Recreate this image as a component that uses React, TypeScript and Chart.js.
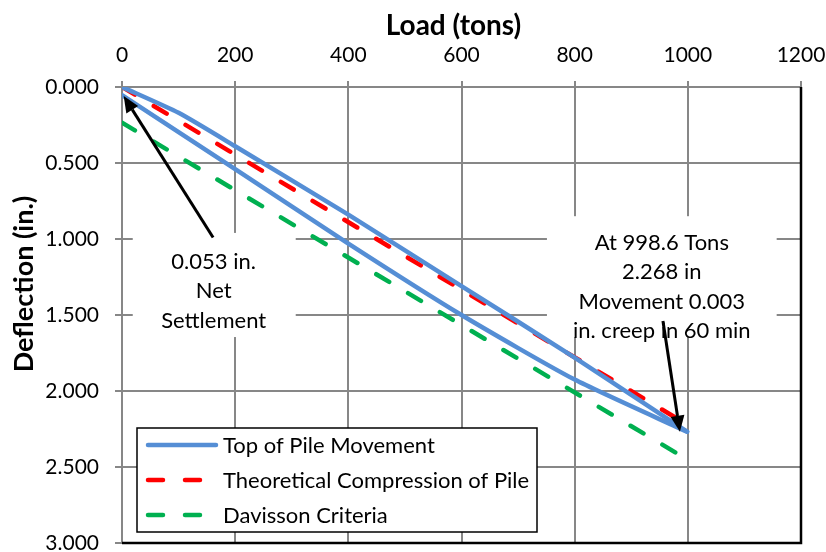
import React, { useEffect, useRef } from "react";
import { Chart, registerables } from "chart.js";

Chart.register(...registerables);

// ---- data ----
const loadTicks = [0, 200, 400, 600, 800, 1000, 1200];
const deflTicks = [0, 0.5, 1.0, 1.5, 2.0, 2.5, 3.0];

const loadingLoad = [0, 100, 200, 400, 600, 800, 998.6];
const loadingDefl = [0, 0.17, 0.39, 0.84, 1.31, 1.78, 2.268];
const unloadLoad = [998.6, 800, 600, 400, 200, 0];
const unloadDefl = [2.268, 1.925, 1.5, 1.03, 0.54, 0.053];

const theoLoad = [0, 998.6];
const theoDefl = [0, 2.22];

const davLoad = [0, 998.6];
const davDefl = [0.235, 2.45];

const seriesNames = [
  "Top of Pile Movement",
  "Theoretical Compression of Pile",
  "Davisson Criteria",
];

const noteNetLines = ["0.053 in.", "Net", "Settlement"];
const noteMaxLines = ["At 998.6 Tons", "2.268 in", "Movement 0.003", "in. creep in 60 min"];

// annotation anchors in data units (load, deflection)
const noteNet = { cx: 162, top: 1.149, box: [19, 307, 0.96, 1.645] };
const noteMax = { cx: 954, top: 1.025, box: [751, 1157, 0.85, 1.645] };
const arrowNet = { from: [161, 0.99], to: [3, 0.06] };
const arrowMax = { from: [956, 1.54], to: [986, 2.268] };

const FONT = "Lato, 'Liberation Sans', sans-serif";
const BLUE = "#558ED5";
const RED = "#FF0000";
const GREEN = "#00B050";
const GRID = "#878787";

const zip = (xs: number[], ys: number[]) => xs.map((x, i) => ({ x, y: ys[i] }));

function drawArrow(ctx: CanvasRenderingContext2D, x1: number, y1: number, x2: number, y2: number) {
  const ang = Math.atan2(y2 - y1, x2 - x1);
  const len = 16;
  const hw = 7;
  const bx = x2 - len * Math.cos(ang);
  const by = y2 - len * Math.sin(ang);
  ctx.save();
  ctx.strokeStyle = "#000";
  ctx.fillStyle = "#000";
  ctx.lineWidth = 3;
  ctx.beginPath();
  ctx.moveTo(x1, y1);
  ctx.lineTo(bx, by);
  ctx.stroke();
  ctx.beginPath();
  ctx.moveTo(x2, y2);
  ctx.lineTo(bx + hw * Math.sin(ang), by - hw * Math.cos(ang));
  ctx.lineTo(bx - hw * Math.sin(ang), by + hw * Math.cos(ang));
  ctx.closePath();
  ctx.fill();
  ctx.restore();
}

const overlayPlugin = {
  id: "overlay",
  beforeDatasetsDraw(chart: any) {
    const { ctx, scales } = chart;
    const xs = scales.x;
    const ys = scales.y;
    ctx.save();
    for (const [note, lines] of [
      [noteNet, noteNetLines],
      [noteMax, noteMaxLines],
    ] as any) {
      const [a, b, c, d] = note.box;
      const x0 = xs.getPixelForValue(a);
      const x1 = Math.min(xs.getPixelForValue(b), chart.chartArea.right - 2);
      const y0 = ys.getPixelForValue(c);
      const y1 = ys.getPixelForValue(d);
      ctx.fillStyle = "#fff";
      ctx.fillRect(x0, y0, x1 - x0, y1 - y0);
      ctx.fillStyle = "#000";
      ctx.font = `22px ${FONT}`;
      ctx.textAlign = "center";
      ctx.textBaseline = "middle";
      const cx = xs.getPixelForValue(note.cx);
      const ty = ys.getPixelForValue(note.top);
      lines.forEach((t: string, i: number) => ctx.fillText(t, cx, ty + i * 29.5));
    }
    ctx.restore();
  },
  afterDatasetsDraw(chart: any) {
    const { ctx, scales, chartArea } = chart;
    const xs = scales.x;
    const ys = scales.y;
    // plot border right & bottom
    ctx.save();
    ctx.strokeStyle = "#000";
    ctx.lineWidth = 2.5;
    ctx.beginPath();
    ctx.moveTo(chartArea.right, chartArea.top);
    ctx.lineTo(chartArea.right, chartArea.bottom);
    ctx.lineTo(chartArea.left, chartArea.bottom);
    ctx.stroke();
    ctx.restore();

    for (const ar of [arrowNet, arrowMax]) {
      drawArrow(
        ctx,
        xs.getPixelForValue(ar.from[0]),
        ys.getPixelForValue(ar.from[1]),
        xs.getPixelForValue(ar.to[0]),
        ys.getPixelForValue(ar.to[1])
      );
    }

    // legend
    const lx = chartArea.left + 15;
    const ly = 428;
    const lw = 400;
    const lh = 104;
    ctx.save();
    ctx.fillStyle = "#fff";
    ctx.fillRect(lx, ly, lw, lh);
    ctx.strokeStyle = "#000";
    ctx.lineWidth = 1.5;
    ctx.strokeRect(lx, ly, lw, lh);
    const styles = [
      { c: BLUE, dash: [] as number[] },
      { c: RED, dash: [15, 22] },
      { c: GREEN, dash: [15, 22] },
    ];
    seriesNames.forEach((name, i) => {
      const yy = ly + 17 + i * 35;
      ctx.strokeStyle = styles[i].c;
      ctx.lineWidth = 4.5;
      ctx.lineCap = "round";
      ctx.setLineDash(styles[i].dash);
      ctx.beginPath();
      ctx.moveTo(lx + 11, yy);
      ctx.lineTo(lx + 79, yy);
      ctx.stroke();
      ctx.setLineDash([]);
      ctx.fillStyle = "#000";
      ctx.font = `22px ${FONT}`;
      ctx.textAlign = "left";
      ctx.textBaseline = "middle";
      ctx.fillText(name, lx + 86, yy + 1);
    });
    ctx.restore();

    // axis titles
    ctx.save();
    ctx.fillStyle = "#000";
    ctx.font = `bold 28px ${FONT}`;
    ctx.textAlign = "center";
    ctx.textBaseline = "alphabetic";
    ctx.fillText("Load (tons)", (chartArea.left + chartArea.right) / 2 - 8, 35);
    ctx.font = `bold 27px ${FONT}`;
    ctx.translate(33, 284);
    ctx.rotate(-Math.PI / 2);
    ctx.fillText("Deflection (in.)", 0, 0);
    ctx.restore();
  },
};

export default function App() {
  const ref = useRef<HTMLCanvasElement | null>(null);
  useEffect(() => {
    if (!ref.current) return;
    const lineBase = {
      showLine: true,
      pointRadius: 0,
      borderWidth: 4.5,
      borderCapStyle: "round",
      borderJoinStyle: "round",
    };
    const chart = new Chart(ref.current, {
      type: "scatter",
      data: {
        datasets: [
          {
            ...lineBase,
            label: seriesNames[0],
            data: zip(loadingLoad, loadingDefl),
            borderColor: BLUE,
            tension: 0.2,
          },
          {
            ...lineBase,
            label: seriesNames[0] + " (unload)",
            data: zip(unloadLoad, unloadDefl),
            borderColor: BLUE,
            tension: 0.2,
          },
          {
            ...lineBase,
            label: seriesNames[1],
            data: zip(theoLoad, theoDefl),
            borderColor: RED,
            borderDash: [15, 22],
          },
          {
            ...lineBase,
            label: seriesNames[2],
            data: zip(davLoad, davDefl),
            borderColor: GREEN,
            borderDash: [15, 22],
          },
        ],
      } as any,
      options: {
        animation: false,
        responsive: false,
        maintainAspectRatio: false,
        layout: { padding: { left: 0, right: 25, top: 0, bottom: 9 } },
        plugins: { legend: { display: false }, tooltip: { enabled: false } },
        scales: {
          x: {
            type: "linear",
            position: "top",
            min: 0,
            max: 1200,
            afterBuildTicks: (s: any) => {
              s.ticks = loadTicks.map((v) => ({ value: v }));
            },
            afterFit: (s: any) => {
              s.height = 87;
              s.paddingLeft = 0;
              s.paddingRight = 0;
            },
            ticks: {
              color: "#000",
              font: { family: FONT, size: 21 },
              padding: 13,
              maxRotation: 0,
              callback: (v: any) => String(v),
            },
            grid: { color: GRID, lineWidth: 2, tickLength: 6, drawTicks: true },
            border: { color: GRID, width: 2 },
          },
          y: {
            type: "linear",
            reverse: true,
            min: 0,
            max: 3,
            afterBuildTicks: (s: any) => {
              s.ticks = deflTicks.map((v) => ({ value: v }));
            },
            afterFit: (s: any) => {
              s.width = 122;
              s.paddingTop = 0;
              s.paddingBottom = 0;
            },
            ticks: {
              color: "#000",
              font: { family: FONT, size: 21 },
              padding: 16,
              callback: (v: any) => Number(v).toFixed(3),
            },
            grid: { color: GRID, lineWidth: 2, tickLength: 7, drawTicks: true },
            border: { color: GRID, width: 2 },
          },
        },
      } as any,
      plugins: [overlayPlugin],
    });
    return () => chart.destroy();
  }, []);
  return (
    <div style={{ position: "fixed", left: 0, top: 0, width: 826, height: 552, background: "#fff" }}>
      <canvas ref={ref} width={826} height={552} style={{ width: 826, height: 552, display: "block" }} />
    </div>
  );
}
